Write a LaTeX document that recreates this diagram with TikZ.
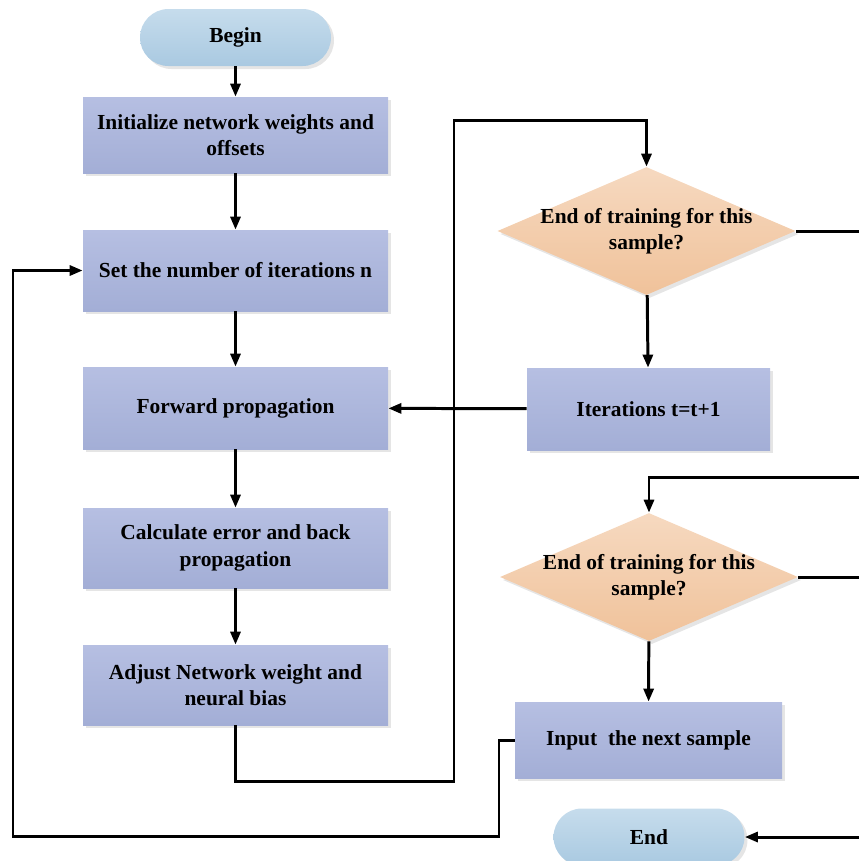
\documentclass[tikz,border=0pt]{standalone}
\usepackage{fontspec}
\setmainfont{Liberation Serif}
\usetikzlibrary{shapes.geometric,shadows,arrows.meta}

\begin{document}
\begin{tikzpicture}[
    process/.style={rectangle, top color=boxtop, bottom color=boxbot,
        minimum width=6.1cm, minimum height=1.6cm, inner sep=2pt,
        align=center, font=\fontsize{12.2}{15}\selectfont\bfseries,
        drop shadow={shadow xshift=0.06cm, shadow yshift=-0.06cm, fill=black!20}},
    terminal/.style={rectangle, rounded corners=0.57cm, top color=termtop,
        bottom color=termbot, minimum width=3.82cm, minimum height=1.14cm,
        font=\fontsize{12.2}{15}\selectfont\bfseries,
        drop shadow={shadow xshift=0.06cm, shadow yshift=-0.06cm, fill=black!20}},
    decision/.style={diamond, top color=dectop, bottom color=decbot,
        minimum width=5.96cm, minimum height=2.56cm, inner sep=0pt,
        drop shadow={shadow xshift=0.06cm, shadow yshift=-0.06cm, fill=black!20}},
    dectext/.style={align=center, font=\fontsize{12.2}{15}\selectfont\bfseries},
    flow/.style={line width=1.7pt, -{Triangle[length=0.26cm, width=0.2cm]}},
    line/.style={line width=1.7pt, -}
]
    \definecolor{boxtop}{HTML}{B6BFE2}
    \definecolor{boxbot}{HTML}{A3AED6}
    \definecolor{termtop}{HTML}{C6DCEC}
    \definecolor{termbot}{HTML}{A9C9E1}
    \definecolor{dectop}{HTML}{F6D9C0}
    \definecolor{decbot}{HTML}{F0C29A}
    \useasboundingbox (0,0) rectangle (17.18,-17.22);

    \node[terminal] (begin) at (4.71,-0.75) {Begin};
    \node[process, minimum height=1.52cm] (init) at (4.71,-2.70)
        {Initialize network weights and\\offsets};
    \node[process, minimum height=1.62cm] (setn) at (4.71,-5.41)
        {Set the number of iterations n};
    \node[process, minimum height=1.64cm] (fwd) at (4.71,-8.16)
        {Forward propagation};
    \node[process] (calc) at (4.71,-10.96)
        {Calculate error and back\\propagation};
    \node[process] (adjust) at (4.71,-13.70)
        {Adjust Network weight and\\neural bias};
    \node[decision] (dec1) at (12.93,-4.62) {};
    \node[dectext] (dec1txt) at (dec1.center)
        {End of training for this\\sample?};
    \node[process, minimum width=4.86cm, minimum height=1.64cm] (iter)
        at (12.97,-8.18) {Iterations t=t+1};
    \node[decision] (dec2) at (12.98,-11.54) {};
    \node[dectext] (dec2txt) at (dec2.center)
        {End of training for this\\sample?};
    \node[process, minimum width=5.34cm, minimum height=1.52cm] (input)
        at (12.97,-14.80) {Input\ \ the next sample};
    \node[terminal] (stop) at (12.98,-16.74) {End};

    \coordinate (dec1out) at (17.18,-4.62);
    \coordinate (dec2in) at (17.18,-9.54);
    \coordinate (dec2out) at (17.18,-11.54);
    \coordinate (stopin) at (17.18,-16.74);

    \draw[flow] (begin) -- (init);
    \draw[flow] (init) -- (setn);
    \draw[flow] (setn) -- (fwd);
    \draw[flow] (fwd) -- (calc);
    \draw[flow] (calc) -- (adjust);
    \draw[flow] (adjust.south) |- (9.08,-15.62) -- (9.08,-2.40) -| (dec1.north);
    \draw[flow] (dec1) -- (iter);
    \draw[flow] (iter) -- (fwd);
    \draw[line] (dec1.east) -- (dec1out);
    \draw[flow] (dec2in) -| (dec2.north);
    \draw[flow] (dec2) -- (input);
    \draw[line] (dec2.east) -- (dec2out);
    \draw[flow] (input.west) -- (9.98,-14.80) |- (0.26,-16.72) |- (setn.west);
    \draw[flow] (stopin) -- (stop);
\end{tikzpicture}
\end{document}
